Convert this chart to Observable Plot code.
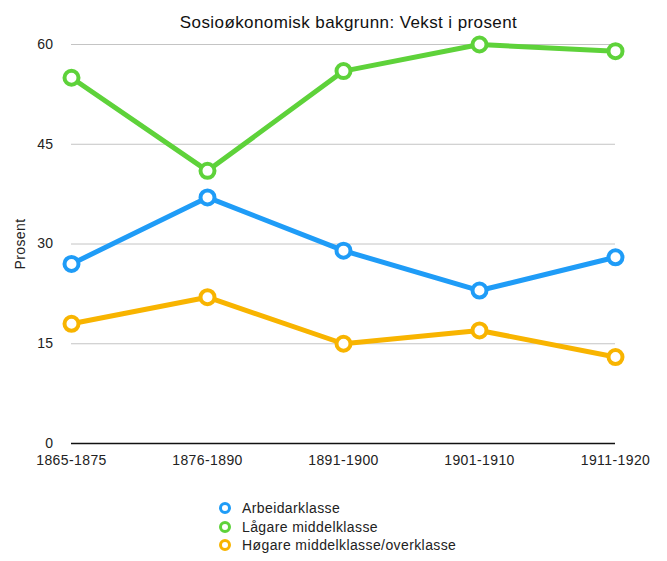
<!DOCTYPE html>
<html>
<head>
<meta charset="utf-8">
<script src="https://cdn.jsdelivr.net/npm/d3@7"></script>
<script src="https://cdn.jsdelivr.net/npm/@observablehq/plot@0.6"></script>
<style>
  body { margin: 0; background: #fff; font-family: "Liberation Sans", Arial, sans-serif; }
  #wrap { width: 667px; height: 561px; position: relative; }
  #wrap svg text { letter-spacing: 0.4px; }
  #legend { position: absolute; left: 218px; top: 499px; font-size: 14px; letter-spacing: 0.4px; color: #222; }
  #legend div { height: 18.5px; line-height: 18.5px; display: flex; align-items: center; }
  #legend svg { margin-right: 10px; }
</style>
</head>
<body>
<div id="wrap"></div>
<script>
const periods = ["1865-1875", "1876-1890", "1891-1900", "1901-1910", "1911-1920"];
const seriesNames = ["Arbeidarklasse", "Lågare middelklasse", "Høgare middelklasse/overklasse"];
const arbeidarklasse = [27, 37, 29, 23, 28];
const lagareMiddelklasse = [55, 41, 56, 60, 59];
const hogareMiddelklasse = [18, 22, 15, 17, 13];
const colors = ["#1f9cf7", "#5ed23a", "#f8b400"];
const yTicks = [0, 15, 30, 45, 60];
const title = "Sosioøkonomisk bakgrunn: Vekst i prosent";
const yLabel = "Prosent";

const seriesValues = [arbeidarklasse, lagareMiddelklasse, hogareMiddelklasse];
const data = [];
seriesNames.forEach((s, i) => periods.forEach((p, j) => data.push({series: s, period: p, value: seriesValues[i][j]})));

const chart = Plot.plot({
  width: 667,
  height: 470,
  marginTop: 44,
  marginBottom: 27,
  marginLeft: 71,
  marginRight: 52,
  style: {fontFamily: "'Liberation Sans', Arial, sans-serif", fontSize: "14px", color: "#222"},
  x: {type: "point", domain: periods, padding: 0},
  y: {domain: [0, 60]},
  color: {domain: seriesNames, range: colors},
  marks: [
    Plot.ruleY(yTicks.filter(d => d > 0), {stroke: "#c4c4c4", strokeWidth: 1}),
    Plot.ruleY([0], {stroke: "#111", strokeWidth: 1.5}),
    Plot.axisY({ticks: yTicks, tickSize: 0, tickPadding: 18, fontSize: 14, label: yLabel, labelAnchor: "center", labelArrow: "none", labelOffset: 56}),
    Plot.axisX({tickSize: 0, tickPadding: 12, fontSize: 14, label: null}),
    Plot.line(data, {x: "period", y: "value", stroke: "series", strokeWidth: 5, strokeLinejoin: "round"}),
    Plot.dot(data, {x: "period", y: "value", stroke: "series", fill: "white", r: 7, strokeWidth: 4}),
    Plot.text([title], {frameAnchor: "top", dy: -29, dx: 5, fontSize: 17, fill: "#111"})
  ]
});

const wrap = document.getElementById("wrap");
wrap.appendChild(chart);
const legend = document.createElement("div");
legend.id = "legend";
seriesNames.forEach((s, i) => {
  const row = document.createElement("div");
  row.innerHTML = `<svg width="14" height="14"><circle cx="7" cy="7" r="4.5" fill="white" stroke="${colors[i]}" stroke-width="3"/></svg><span>${s}</span>`;
  legend.appendChild(row);
});
wrap.appendChild(legend);
</script>
</body>
</html>
